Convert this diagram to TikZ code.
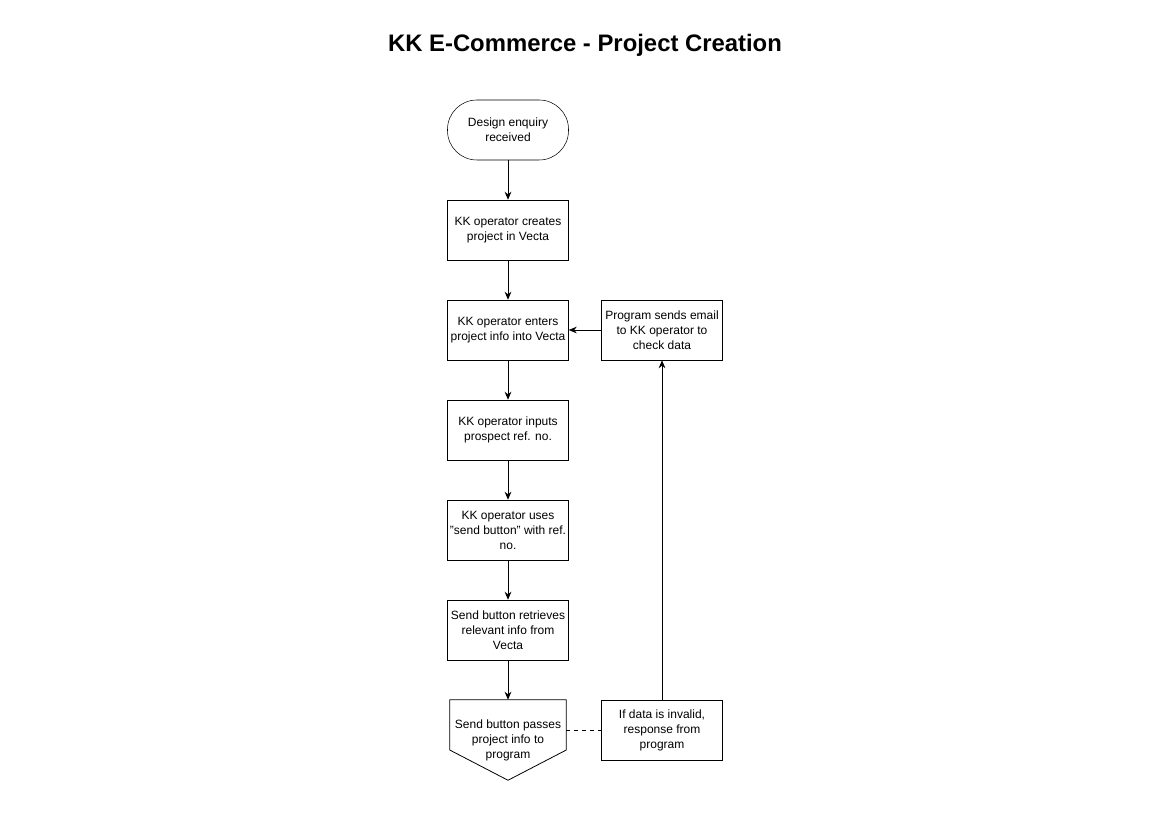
\documentclass[tikz,border=0pt]{standalone}
\usepackage{fontspec}
\setmainfont{Liberation Sans}
\usetikzlibrary{arrows.meta}

\begin{document}
\begin{tikzpicture}[%
x=0.75pt,y=-0.75pt,
every node/.style={font=\fontsize{9}{11.25}\selectfont,align=center},
procbox/.style={draw,minimum width=90.75pt,minimum height=45pt,inner sep=1pt},
termbox/.style={procbox,rounded corners=22pt},
flow/.style={-{Stealth[length=6pt,width=5pt]},line width=0.6pt},
]
\useasboundingbox (0,0) rectangle (1169,827);
%% title;
\node (title) at (585,45) {\fontsize{17.9}{21}\selectfont\bfseries KK E-Commerce - Project Creation};
%% main column;
\node[termbox] (enq) at (508,130) {Design enquiry\\received};
\node[procbox] (create) at (508,230) {KK operator creates\\project in Vecta};
\node[procbox] (enter) at (508,330) {KK operator enters\\project info into Vecta};
\node[procbox] (ref) at (508,430) {KK operator inputs\\prospect ref. no.};
\node[procbox] (send) at (508,530) {KK operator uses\\"send button" with ref.\\no.};
\node[procbox] (fetch) at (508,630) {Send button retrieves\\relevant info from\\Vecta};
%% off page shape;
\node[minimum width=87pt,minimum height=60pt,inner sep=0pt] (pass) at (508,740) {Send button passes\\project info to\\program};
\draw[line width=0.6pt] (pass.north west) -- (pass.north east) -- ([yshift=-7.5pt]pass.east)
  -- (pass.south) -- ([yshift=-7.5pt]pass.west) -- cycle;
%% right column;
\node[procbox] (mail) at (662,330) {Program sends email\\to KK operator to\\check data};
\node[procbox] (inv) at (662,730) {If data is invalid,\\response from\\program};
%% arrows;
\draw[flow] (enq) -- (create);
\draw[flow] (create) -- (enter);
\draw[flow] (enter) -- (ref);
\draw[flow] (ref) -- (send);
\draw[flow] (send) -- (fetch);
\draw[flow] (fetch) -- (pass);
\draw[flow] (inv) -- (mail);
\draw[flow] (mail) -- (enter);
\draw[dashed,line width=0.6pt] (pass.east |- inv.west) -- (inv.west);
\end{tikzpicture}
\end{document}
